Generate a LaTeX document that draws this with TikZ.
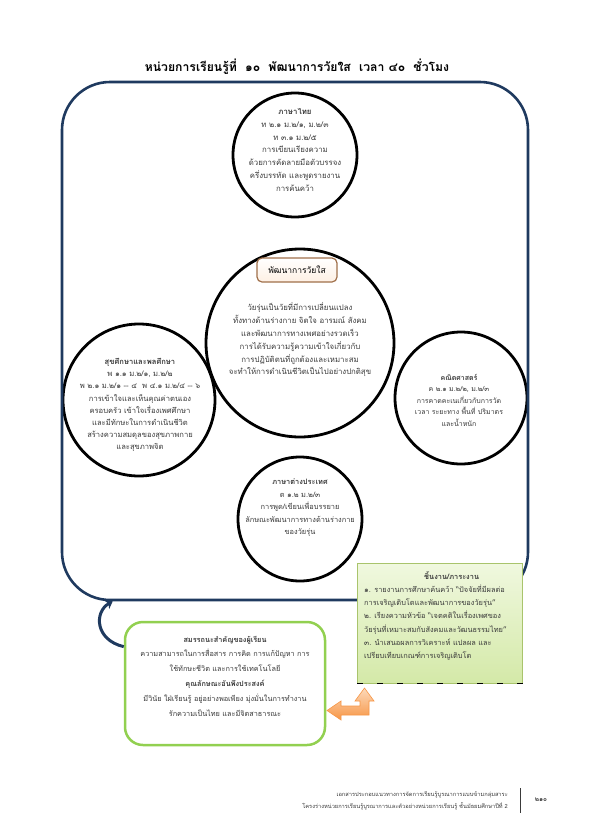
\documentclass[tikz,border=0pt]{standalone}
\usepackage{fontspec}
\newfontfamily\thaifont[Script=Thai]{Loma}
\usetikzlibrary{arrows.meta}
\definecolor{navy}{HTML}{1F3A5F}
\definecolor{gborder}{HTML}{A9C46C}
\definecolor{lgreen}{HTML}{92D050}
\definecolor{gfill1}{HTML}{F0F8DF}
\definecolor{gfill2}{HTML}{D4E9A8}
\definecolor{brownb}{HTML}{A0704A}
\definecolor{txt}{HTML}{3A3A3A}
\definecolor{orange1}{HTML}{FCD9BA}
\definecolor{orange2}{HTML}{F79646}
\begin{document}
\begin{tikzpicture}[x=1pt,y=-1pt,
  bub/.style={circle,draw=black,line width=2.8pt,fill=white,inner sep=0pt},
  body/.style={font=\thaifont\fontsize{7.8}{12.8}\selectfont,text=txt,align=center,inner sep=0pt},
  frame/.style={draw=navy,line width=2.6pt,rounded corners=48pt,minimum width=466pt,minimum height=518pt,inner sep=0pt},
  corebox/.style={draw=brownb,line width=1.2pt,rounded corners=5pt,top color=white,bottom color=orange1!40,minimum width=80pt,minimum height=24pt,font=\thaifont\fontsize{8.5}{10}\selectfont,text=black},
  taskbox/.style={draw=gborder,line width=1pt,top color=gfill1,bottom color=gfill2,minimum width=165pt,minimum height=120pt,inner sep=0pt},
  compbox/.style={draw=lgreen,line width=2.5pt,fill=white,rounded corners=18pt,minimum width=200pt,minimum height=123pt,inner sep=0pt},
  navyarrow/.style={draw=navy,line width=3pt,-{Stealth[length=7pt,width=10pt]}},
  foot/.style={font=\thaifont\fontsize{5.7}{7}\selectfont,text=txt,inner sep=0pt}
]
\useasboundingbox (0,0) rectangle (595,836);
\fill[white] (0,0) rectangle (595,836);

% title
\node[font=\thaifont\bfseries\fontsize{12.2}{14}\selectfont] (title) at (297,67)
  {หน่วยการเรียนรู้ที่ \ ๑๐ \ พัฒนาการวัยใส \ เวลา ๔๐ \ ชั่วโมง};

% circles
\node[bub,minimum size=124pt] (thai) at (295,155) {};
\node[bub,minimum size=188pt] (core) at (300,343) {};
\node[bub,minimum size=152pt] (health) at (139,400) {};
\node[bub,minimum size=132pt] (math) at (461,398) {};
\node[bub,minimum size=124pt] (lang) at (300,519) {};

% frame
\node[frame] (frame) at (295,341) {};

% circle texts
\node[body] (thaitxt) at (295,150) {{\bfseries ภาษาไทย}\\ท ๒.๑ ม.๒/๑, ม.๒/๓\\ท ๓.๑ ม.๒/๕\\การเขียนเรียงความ\\ด้วยการคัดลายมือตัวบรรจง\\ครึ่งบรรทัด และพูดรายงาน\\การค้นคว้า};

\node[corebox] (corelbl) at (297,270) {พัฒนาการวัยใส};
\node[body] (coretxt) at (300,340) {วัยรุ่นเป็นวัยที่มีการเปลี่ยนแปลง\\ทั้งทางด้านร่างกาย จิตใจ อารมณ์ สังคม\\และพัฒนาการทางเพศอย่างรวดเร็ว\\การได้รับความรู้ความเข้าใจเกี่ยวกับ\\การปฏิบัติตนที่ถูกต้องและเหมาะสม\\จะทำให้การดำเนินชีวิตเป็นไปอย่างปกติสุข};

\node[body,font=\thaifont\fontsize{7.6}{12.2}\selectfont] (healthtxt) at (140,405) {{\bfseries สุขศึกษาและพลศึกษา}\\พ ๑.๑ ม.๒/๑, ม.๒/๒\\พ ๒.๑ ม.๒/๑ -- ๔ \ พ ๔.๑ ม.๒/๔ -- ๖\\การเข้าใจและเห็นคุณค่าตนเอง\\ครอบครัว เข้าใจเรื่องเพศศึกษา\\และมีทักษะในการดำเนินชีวิต\\สร้างความสมดุลของสุขภาพกาย\\และสุขภาพจิต};

\node[body,font=\thaifont\fontsize{7}{11.5}\selectfont] (mathtxt) at (459,400) {{\bfseries คณิตศาสตร์}\\ค ๒.๑ ม.๒/๒, ม.๒/๓\\การคาดคะเนเกี่ยวกับการวัด\\เวลา ระยะทาง พื้นที่ ปริมาตร\\และน้ำหนัก};

\node[body,font=\thaifont\fontsize{7.4}{12.5}\selectfont] (langtxt) at (300,508) {{\bfseries ภาษาต่างประเทศ}\\ต ๑.๒ ม.๒/๓\\การพูด/เขียนเพื่อบรรยาย\\ลักษณะพัฒนาการทางด้านร่างกาย\\ของวัยรุ่น};

% task box
\node[taskbox] (task) at (440,623) {};
\node[body,font=\thaifont\fontsize{7.4}{13.3}\selectfont,align=left,anchor=north west] (tasktxt) at (364,571)
  {\hspace*{60pt}{\bfseries ชิ้นงาน/ภาระงาน}\\๑. รายงานการศึกษาค้นคว้า “ปัจจัยที่มีผลต่อ\\การเจริญเติบโตและพัฒนาการของวัยรุ่น”\\๒. เรียงความหัวข้อ “เจตคติในเรื่องเพศของ\\วัยรุ่นที่เหมาะสมกับสังคมและวัฒนธรรมไทย”\\๓. นำเสนอผลการวิเคราะห์ แปลผล และ\\เปรียบเทียบเกณฑ์การเจริญเติบโต};
\draw[black,line width=1.3pt,dash pattern=on 6pt off 14pt] (task.south west) -- (task.south east);

% competency box
\node[compbox] (comp) at (225,683.5) {};
\node[body,font=\thaifont\fontsize{7.3}{14.8}\selectfont] (comptxt) at (225,676)
  {{\bfseries สมรรถนะสำคัญของผู้เรียน}\\ความสามารถในการสื่อสาร การคิด การแก้ปัญหา การ\\ใช้ทักษะชีวิต และการใช้เทคโนโลยี\\{\bfseries คุณลักษณะอันพึงประสงค์}\\มีวินัย ใฝ่เรียนรู้ อยู่อย่างพอเพียง มุ่งมั่นในการทำงาน\\รักความเป็นไทย และมีจิตสาธารณะ};

% connectors
\draw[navyarrow] (comp.160) .. controls (95,640) and (94,612) .. (frame.235);

\shade[top color=orange1,bottom color=orange2,draw=orange2,line width=0.6pt]
  (364.5,688) -- (374,701) -- (369,701) -- (369,715) -- (341,715) -- (341,720)
  -- (327,710.5) -- (341,701) -- (341,706) -- (360,706) -- (360,701) -- (355,701) -- cycle;

% footer
\node[foot,anchor=east] (foot1) at (508,795) {เอกสารประกอบแนวทางการจัดการเรียนรู้บูรณาการแบบข้ามกลุ่มสาระ};
\node[foot,anchor=east] (foot2) at (508,806) {โครงร่างหน่วยการเรียนรู้บูรณาการและตัวอย่างหน่วยการเรียนรู้ ชั้นมัธยมศึกษาปีที่ 2};
\draw[txt,line width=0.8pt] (520,788) -- (520,813);
\node[foot,font=\thaifont\bfseries\fontsize{6.5}{8}\selectfont] (page) at (541,800) {๒๑๐};
\end{tikzpicture}
\end{document}
